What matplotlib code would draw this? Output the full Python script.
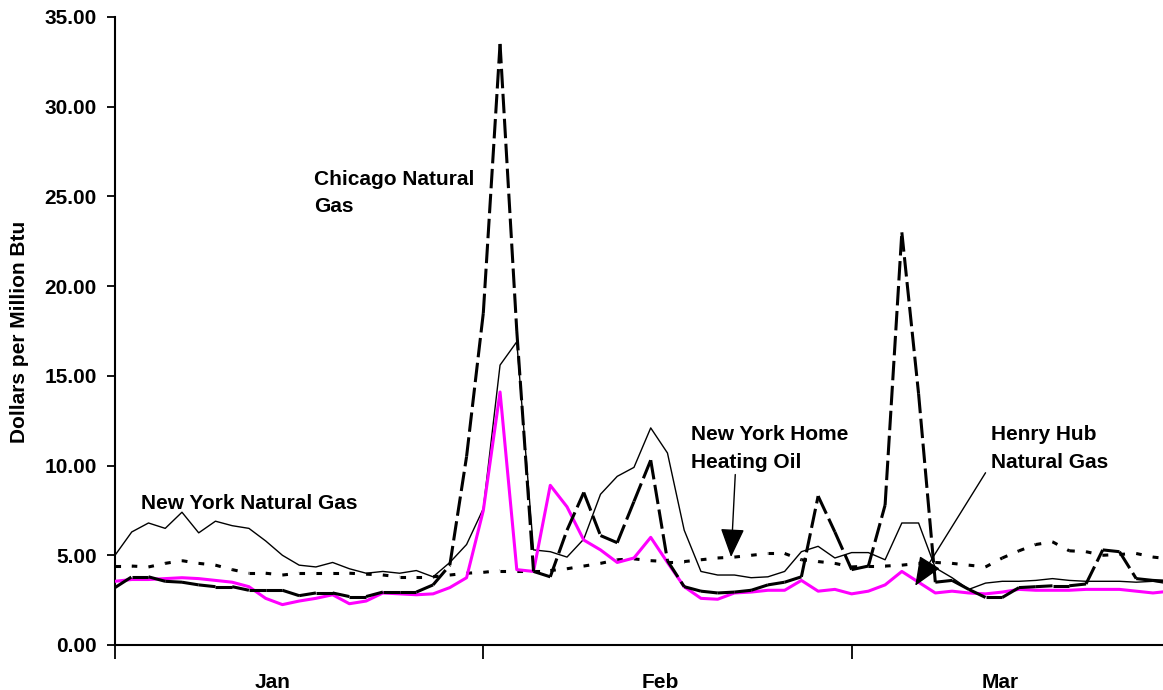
import matplotlib
matplotlib.use("Agg")
import matplotlib.pyplot as plt
from matplotlib.collections import LineCollection
import numpy as np

plt.rcParams["font.family"] = ["Liberation Sans", "DejaVu Sans"]
plt.rcParams["font.weight"] = "bold"
plt.rcParams["lines.scale_dashes"] = False

# Daily spot prices, dollars per million Btu, trading days Jan -> Mar
NY_GAS = [
    5.0, 6.3, 6.8, 6.5, 7.4, 6.25, 6.9, 6.65, 6.5, 5.8, 5.0, 4.45, 4.35, 4.6, 4.25, 4.0,
    4.1, 4.0, 4.15, 3.8, 4.6, 5.6, 7.6, 15.6, 16.9, 5.3, 5.2, 4.9, 5.9, 8.4, 9.4, 9.9,
    12.1, 10.7, 6.4, 4.1, 3.9, 3.9, 3.75, 3.8, 4.1, 5.2, 5.5, 4.85, 5.15, 5.15, 4.75, 6.8,
    6.8, 4.3, 3.75, 3.1, 3.45, 3.55, 3.55, 3.6, 3.7, 3.6, 3.55, 3.55, 3.55, 3.5, 3.55, 3.4,
]
CHICAGO_GAS = [
    3.2, 3.8, 3.8, 3.55, 3.5, 3.35, 3.25, 3.25, 3.05, 3.05, 3.05, 2.75, 2.9, 2.9, 2.7, 2.7,
    2.95, 2.95, 2.95, 3.35, 4.45, 10.5, 18.5, 33.5, 17.5, 4.1, 3.8, 6.4, 8.5, 6.1, 5.7, 8.0,
    10.3, 4.7, 3.25, 3.0, 2.9, 2.95, 3.05, 3.35, 3.5, 3.8, 8.3, 6.3, 4.2, 4.4, 7.8, 23.0,
    14.0, 3.5, 3.6, 3.1, 2.65, 2.65, 3.2, 3.25, 3.3, 3.3, 3.4, 5.3, 5.2, 3.7, 3.6, 3.55,
]
NY_HEATING_OIL = [
    4.4, 4.4, 4.35, 4.55, 4.7, 4.55, 4.45, 4.2, 4.0, 4.0, 3.9, 4.0, 4.0, 4.0, 4.0, 3.95,
    3.9, 3.8, 3.8, 3.8, 3.9, 4.0, 4.05, 4.15, 4.15, 4.15, 4.15, 4.25, 4.4, 4.55, 4.75, 4.8,
    4.7, 4.65, 4.65, 4.75, 4.85, 4.9, 5.0, 5.1, 5.1, 4.75, 4.65, 4.55, 4.35, 4.4, 4.4, 4.45,
    4.55, 4.6, 4.55, 4.45, 4.35, 4.85, 5.25, 5.6, 5.75, 5.25, 5.2, 5.0, 5.05, 5.1, 4.9, 4.8,
]
HENRY_HUB = [
    3.55, 3.65, 3.65, 3.7, 3.75, 3.7, 3.6, 3.5, 3.25, 2.6, 2.25, 2.45, 2.6, 2.8, 2.3, 2.45,
    2.9, 2.85, 2.8, 2.85, 3.2, 3.75, 7.5, 14.1, 4.2, 4.1, 8.9, 7.7, 5.85, 5.3, 4.6, 4.85,
    6.0, 4.6, 3.25, 2.6, 2.55, 2.9, 2.95, 3.05, 3.05, 3.6, 3.0, 3.1, 2.85, 3.0, 3.35, 4.1,
    3.5, 2.9, 3.0, 2.9, 2.85, 2.95, 3.1, 3.05, 3.05, 3.05, 3.1, 3.1, 3.1, 3.0, 2.9, 3.0,
]

MONTH_STARTS = [0, 22, 44]          # index of first trading day of each month
MONTH_LABELS = ["Jan", "Feb", "Mar"]
MONTH_LABEL_POS = [9.4, 32.6, 52.9]
Y_TICKS = [0, 5, 10, 15, 20, 25, 30, 35]

x = np.arange(len(NY_GAS))


def segments(values):
    # one path per day-to-day step, so the dash pattern restarts at each point (Excel look)
    pts = np.column_stack([x, values])
    return np.stack([pts[:-1], pts[1:]], axis=1)


fig = plt.figure(figsize=(11.63, 6.90), dpi=100)
ax = fig.add_axes([115 / 1163, 1 - 645 / 690, 1 - 115 / 1163, (645 - 17) / 690])

ax.plot(x, NY_GAS, color="black", lw=1.0, zorder=3)
ax.add_collection(LineCollection(segments(NY_HEATING_OIL), colors="black", linewidths=2.2,
                                 linestyles=[(0, (4, 8))], zorder=2))
ax.add_collection(LineCollection(segments(CHICAGO_GAS), colors="black", linewidths=2.2,
                                 linestyles=[(0, (14, 4))], zorder=4))
ax.plot(x, HENRY_HUB, color="#FF00FF", lw=2.2, zorder=3)

ax.set_xlim(0, 62.6)
ax.set_ylim(0, 35)
ax.set_yticks(Y_TICKS)
ax.set_yticklabels([f"{v:.2f}" for v in Y_TICKS], fontsize=15, fontweight="bold")
ax.tick_params(axis="y", direction="out", length=6, width=1.3, pad=7)

ax.set_xticks(MONTH_STARTS)
ax.set_xticklabels([])
ax.tick_params(axis="x", which="major", direction="out", length=10, width=1.3)
ax.set_xticks(MONTH_LABEL_POS, minor=True)
ax.set_xticklabels(MONTH_LABELS, minor=True, fontsize=15, fontweight="bold")
ax.tick_params(axis="x", which="minor", length=0, pad=20)

for side in ("top", "right"):
    ax.spines[side].set_visible(False)
for side in ("left", "bottom"):
    ax.spines[side].set_linewidth(1.5)

fig.text(20 / 1163, 1 - 332 / 690, "Dollars per Million Btu", rotation=90,
         ha="center", va="center", fontsize=15, fontweight="bold")

txt = dict(fontsize=15, fontweight="bold", linespacing=1.55)
ax.text(11.9, 25.2, "Chicago Natural\nGas", ha="left", va="center", **txt)
ax.text(1.55, 7.9, "New York Natural Gas", ha="left", va="center", **txt)
ax.text(34.4, 10.95, "New York Home\nHeating Oil", ha="left", va="center", **txt)
ax.text(52.3, 10.95, "Henry Hub\nNatural Gas", ha="left", va="center", **txt)

arrow = dict(arrowstyle="-|>,head_length=0.6,head_width=0.25", color="black", lw=1.0,
             mutation_scale=30, shrinkA=0, shrinkB=0)
ax.annotate("", xy=(36.8, 4.9), xytext=(37.05, 9.5), arrowprops=arrow, zorder=5)
ax.annotate("", xy=(47.8, 3.3), xytext=(52.0, 9.6), arrowprops=arrow, zorder=5)

fig.savefig("out.png", dpi=100)
